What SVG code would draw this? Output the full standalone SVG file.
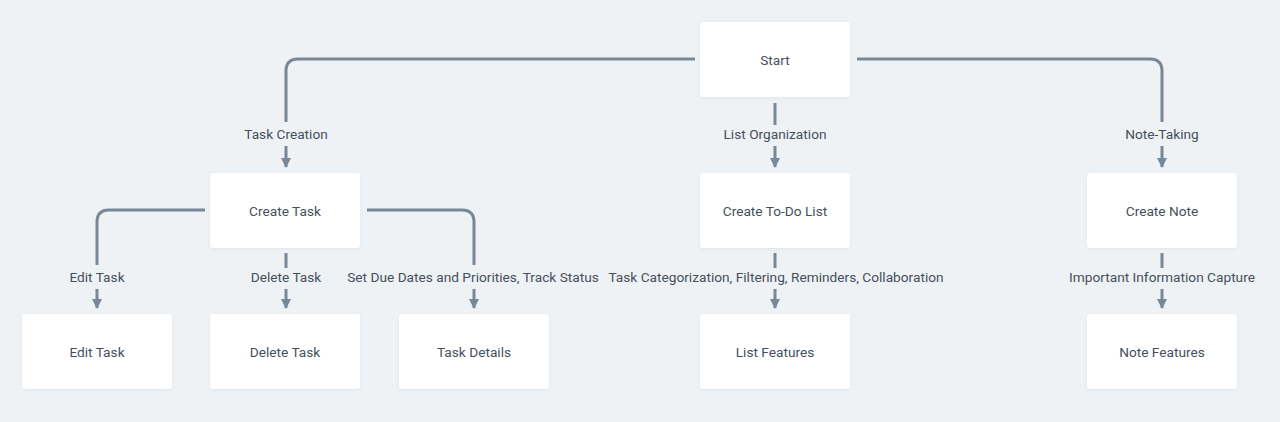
<svg xmlns="http://www.w3.org/2000/svg" width="1280" height="422" viewBox="0 0 1280 422">
<defs>
<marker id="arr" markerWidth="10" markerHeight="10" refX="9" refY="5" orient="auto" markerUnits="userSpaceOnUse">
<path d="M0,0 L10,5 L0,10 Z" fill="#778899"/>
</marker>
<filter id="sh" x="-10%" y="-10%" width="120%" height="130%">
<feDropShadow dx="0" dy="1" stdDeviation="1.5" flood-color="#8090a0" flood-opacity="0.15"/>
</filter>
<style>
.bg{fill:#eff2f5}
.box{fill:#ffffff;filter:url(#sh)}
.t{font-family:Roboto,"Liberation Sans",sans-serif;font-size:13.7px;fill:#454f5c;text-anchor:middle;dominant-baseline:central}
.e{fill:none;stroke:#778899;stroke-width:3}
.a{fill:none;stroke:#778899;stroke-width:3;marker-end:url(#arr)}
</style>
</defs>
<rect class="bg" x="0" y="0" width="1280" height="422"/>
<g id="connectors">
<path class="e" d="M695,59 H298 Q286,59 286,71 V122"/>
<path class="a" d="M286,146 V167"/>
<path class="e" d="M857,59 H1150 Q1162,59 1162,71 V122"/>
<path class="a" d="M1162,146 V167"/>
<path class="e" d="M775,103 V125"/>
<path class="a" d="M775,146 V167"/>
<path class="e" d="M205,210 H109 Q97,210 97,222 V265"/>
<path class="a" d="M97,289 V308"/>
<path class="e" d="M367,210 H462 Q474,210 474,222 V265"/>
<path class="a" d="M474,289 V308"/>
<path class="e" d="M286,253 V268"/>
<path class="a" d="M286,289 V308"/>
<path class="e" d="M775,253 V268"/>
<path class="a" d="M775,289 V308"/>
<path class="e" d="M1162,253 V268"/>
<path class="a" d="M1162,289 V308"/>
<text class="t" x="286" y="134">Task Creation</text>
<text class="t" x="775" y="134">List Organization</text>
<text class="t" x="1162" y="134">Note-Taking</text>
<text class="t" x="97" y="277">Edit Task</text>
<text class="t" x="286" y="277">Delete Task</text>
<text class="t" x="473" y="277">Set Due Dates and Priorities, Track Status</text>
<text class="t" x="776" y="277">Task Categorization, Filtering, Reminders, Collaboration</text>
<text class="t" x="1162" y="277">Important Information Capture</text>
</g>
<g id="start"><rect class="box" x="700" y="22" width="150" height="75" rx="3"/><text class="t" x="775" y="59.5">Start</text></g>
<g id="create-task"><rect class="box" x="210" y="173" width="150" height="75" rx="3"/><text class="t" x="285" y="210.5">Create Task</text></g>
<g id="create-list"><rect class="box" x="700" y="173" width="150" height="75" rx="3"/><text class="t" x="775" y="210.5">Create To-Do List</text></g>
<g id="create-note"><rect class="box" x="1087" y="173" width="150" height="75" rx="3"/><text class="t" x="1162" y="210.5">Create Note</text></g>
<g id="edit-task"><rect class="box" x="22" y="314" width="150" height="75" rx="3"/><text class="t" x="97" y="351.5">Edit Task</text></g>
<g id="delete-task"><rect class="box" x="210" y="314" width="150" height="75" rx="3"/><text class="t" x="285" y="351.5">Delete Task</text></g>
<g id="task-details"><rect class="box" x="399" y="314" width="150" height="75" rx="3"/><text class="t" x="474" y="351.5">Task Details</text></g>
<g id="list-features"><rect class="box" x="700" y="314" width="150" height="75" rx="3"/><text class="t" x="775" y="351.5">List Features</text></g>
<g id="note-features"><rect class="box" x="1087" y="314" width="150" height="75" rx="3"/><text class="t" x="1162" y="351.5">Note Features</text></g>
</svg>
